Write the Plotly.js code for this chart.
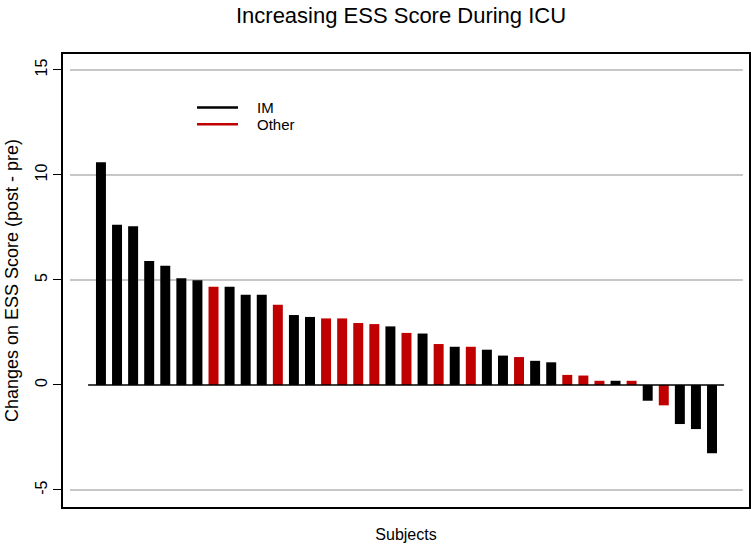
<!DOCTYPE html>
<html>
<head>
<meta charset="utf-8">
<script src="https://cdn.plot.ly/plotly-3.0.1.min.js"></script>
<style>html,body{margin:0;padding:0;background:#fff;}#chart{width:751px;height:545px;}</style>
</head>
<body>
<div id="chart"></div>
<script>
// Subject index (sorted by change)
const subjects = Array.from({length: 39}, (_, i) => i + 1);
// Change in ESS score (post - pre)
const changes = [10.6, 7.63, 7.56, 5.9, 5.68, 5.08, 4.99, 4.68, 4.68, 4.3,
                 4.3, 3.82, 3.33, 3.24, 3.17, 3.17, 2.95, 2.9, 2.79, 2.48,
                 2.45, 1.95, 1.82, 1.82, 1.68, 1.4, 1.33, 1.15, 1.08, 0.48,
                 0.45, 0.2, 0.2, 0.2, -0.75, -0.97, -1.86, -2.1, -3.25];
// Group of each subject
const groups = ["IM","IM","IM","IM","IM","IM","IM","Other","IM","IM",
                "IM","Other","IM","IM","Other","Other","Other","Other","IM","Other",
                "IM","Other","IM","Other","IM","IM","Other","IM","IM","Other",
                "Other","Other","IM","Other","IM","Other","IM","IM","IM"];
const groupNames = ["IM", "Other"];
const groupColors = {"IM": "#000000", "Other": "#c00000"};
const yTicks = [-5, 0, 5, 10, 15];
const gridValues = [-5, 5, 10, 15];

const font = "Liberation Sans, Arial, Helvetica, sans-serif";

const trace = {
  type: "bar",
  x: subjects,
  y: changes,
  width: 0.62,
  marker: {color: groups.map(g => groupColors[g]), line: {width: 0}},
  showlegend: false,
  hoverinfo: "x+y"
};

const shapes = [];
gridValues.forEach(v => shapes.push({
  type: "line", xref: "paper", yref: "y", x0: 0.0102, x1: 0.991, y0: v, y1: v,
  line: {color: "#b4b4b4", width: 1.5}, layer: "below"
}));
shapes.push({
  type: "line", xref: "x", yref: "y", x0: 0.2, x1: 39.75, y0: 0, y1: 0,
  line: {color: "#000000", width: 1.5}, layer: "above"
});

const annotations = [];
groupNames.forEach((g, i) => {
  const yPix = 107.5 + i * 16.7;
  const yp = 1 - (yPix - 54) / 453;
  shapes.push({
    type: "line", xref: "paper", yref: "paper",
    x0: (197 - 63) / 686, x1: (238 - 63) / 686, y0: yp, y1: yp,
    line: {color: groupColors[g], width: 2.5}
  });
  annotations.push({
    xref: "paper", yref: "paper", x: (255 - 63) / 686, y: yp,
    xanchor: "left", yanchor: "middle", showarrow: false,
    text: g, font: {family: font, size: 15, color: "#000"}
  });
});

const layout = {
  width: 751, height: 545,
  margin: {l: 63, r: 2, t: 54, b: 38, pad: 0},
  paper_bgcolor: "#fff", plot_bgcolor: "#fff",
  font: {family: font, color: "#000", size: 16},
  title: {
    text: "Increasing ESS Score During ICU",
    font: {family: font, size: 22, color: "#000"},
    xref: "container", x: 0.534, xanchor: "center",
    yref: "container", y: 0.972, yanchor: "middle"
  },
  xaxis: {
    range: [-1.36, 41.3],
    showticklabels: false, ticks: "", showgrid: false, zeroline: false,
    showline: true, mirror: true, linecolor: "#000", linewidth: 2,
    title: {text: "Subjects", font: {family: font, size: 16}, standoff: 21}
  },
  yaxis: {
    range: [-5.81, 15.76],
    tickvals: yTicks, ticktext: yTicks.map(String),
    tickangle: -90, ticks: "outside", ticklen: 8, tickwidth: 1, tickcolor: "#000",
    tickfont: {family: font, size: 16},
    showgrid: false, zeroline: false,
    showline: true, mirror: true, linecolor: "#000", linewidth: 2,
    title: {text: "Changes on ESS Score (post - pre)", font: {family: font, size: 18}, standoff: 9}
  },
  shapes: shapes,
  annotations: annotations,
  bargap: 0.38
};

Plotly.newPlot("chart", [trace], layout, {displayModeBar: false, staticPlot: true});
</script>
</body>
</html>
